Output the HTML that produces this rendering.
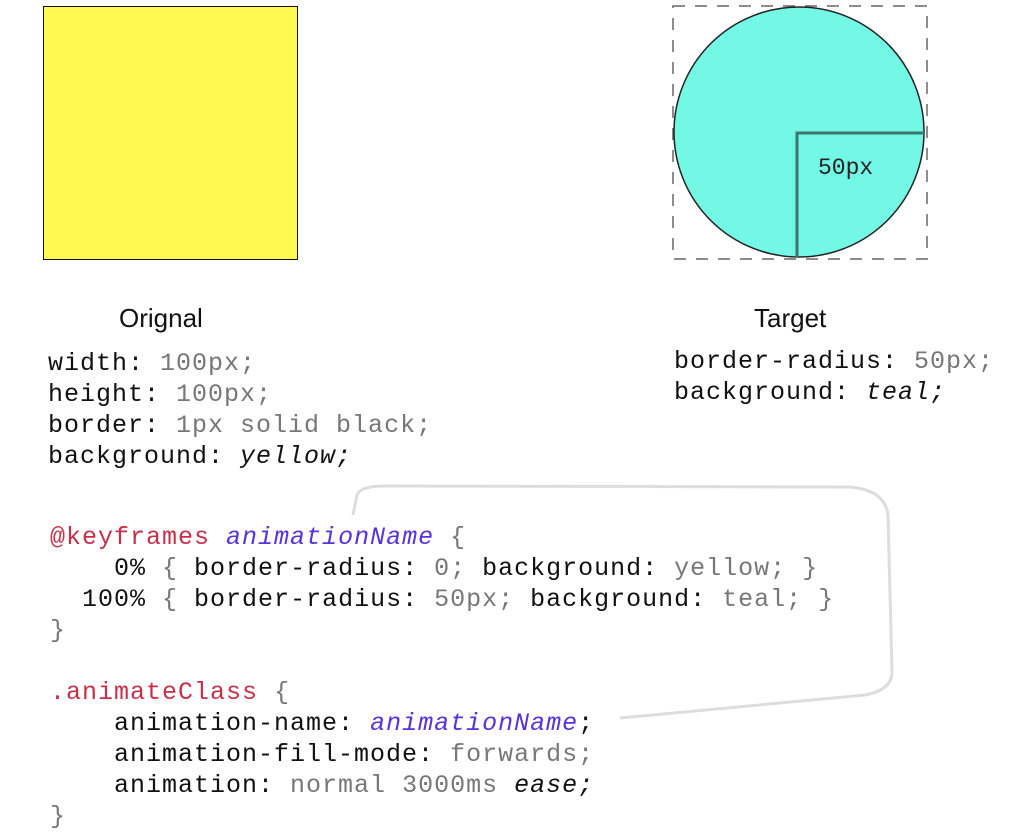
<!DOCTYPE html>
<html><head><meta charset="utf-8"><style>
body{margin:0;width:1024px;height:835px;background:#fff;position:relative;overflow:hidden}
.c{position:absolute;font-family:"Liberation Mono",monospace;font-size:25px;letter-spacing:1px;line-height:31px;white-space:pre;color:#111}
.g{color:#777}.i{font-style:italic}.r{color:#c8304a}.p{color:#5533dd;font-style:italic}
.l{position:absolute;font-family:"Liberation Sans",sans-serif;font-size:26px;color:#111}
</style></head><body>
<div style="position:absolute;left:43px;top:6px;width:253px;height:252px;background:#fff952;border:1px solid #111"></div>
<svg style="position:absolute;left:0;top:0" width="1024" height="835">
<rect x="673" y="6" width="254" height="253" fill="none" stroke="#666" stroke-width="1.5" stroke-dasharray="12,10"/>
<circle cx="799" cy="132" r="125" fill="#72f8e5" stroke="#222" stroke-width="1.5"/>
<polyline points="797,257 797,133 924,133" fill="none" stroke="#3a7770" stroke-width="3"/>
<text x="818" y="174" font-family="Liberation Mono,monospace" font-size="23" fill="#222">50px</text>
<path d="M353,515 L357,495 Q360,487 380,486 L850,487 Q885,490 888,515 L892,672 Q892,690 865,695 L620,718" fill="none" stroke="#ddd" stroke-width="3"/>
</svg>
<div class="l" style="left:119px;top:303px">Orignal</div>
<div class="l" style="left:754px;top:303px">Target</div>
<div class="c" style="left:48px;top:348px">width: <span class="g">100px;</span>
height: <span class="g">100px;</span>
border: <span class="g">1px solid black;</span>
background: <span class="i">yellow;</span></div>
<div class="c" style="left:674px;top:346px">border-radius: <span class="g">50px;</span>
background: <span class="i">teal;</span></div>
<div class="c" style="left:50px;top:522px"><span class="r">@keyframes</span> <span class="p">animationName</span> <span class="g">{</span>
    0% <span class="g">{</span> border-radius: <span class="g">0;</span> background: <span class="g">yellow;</span> <span class="g">}</span>
  100% <span class="g">{</span> border-radius: <span class="g">50px;</span> background: <span class="g">teal;</span> <span class="g">}</span>
<span class="g">}</span>

<span class="r">.animateClass</span> <span class="g">{</span>
    animation-name: <span class="p">animationName</span>;
    animation-fill-mode: <span class="g">forwards;</span>
    animation: <span class="g">normal 3000ms</span> <span class="i">ease;</span>
<span class="g">}</span></div>
</body></html>
